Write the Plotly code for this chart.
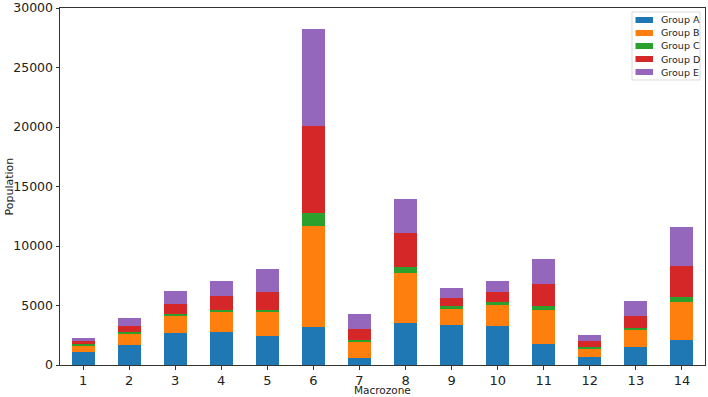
import plotly.graph_objects as go

macrozones = list(range(1, 15))
group_names = ["Group A", "Group B", "Group C", "Group D", "Group E"]
group_a = [1120, 1690, 2700, 2750, 2470, 3170, 590, 3540, 3340, 3250, 1770, 640, 1480, 2130]
group_b = [510, 930, 1400, 1690, 1960, 8550, 1310, 4180, 1380, 1800, 2890, 710, 1470, 3140]
group_c = [140, 140, 200, 200, 230, 1060, 170, 540, 220, 280, 280, 130, 140, 420]
group_d = [220, 500, 840, 1120, 1490, 7330, 960, 2830, 650, 780, 1890, 510, 990, 2610]
group_e = [290, 710, 1100, 1290, 1880, 8120, 1260, 2840, 870, 960, 2070, 560, 1260, 3320]
colors = ["#1f77b4", "#ff7f0e", "#2ca02c", "#d62728", "#9467bd"]

W, H = 708, 397
L, R, T, B = 60, 3, 8, 32
pw, ph = W - L - R, H - T - B

def px_x(p):  # pixel -> paper
    return (p - L) / pw

def px_y(p):
    return (H - B - p) / ph

fig = go.Figure()
for name, vals, c in zip(group_names, [group_a, group_b, group_c, group_d, group_e], colors):
    fig.add_trace(go.Bar(x=macrozones, y=vals, name=name, width=0.5,
                         marker=dict(color=c, line=dict(width=0))))

# matplotlib-like legend box drawn by hand
shapes = [dict(type="rect", xref="paper", yref="paper",
               x0=px_x(632), x1=px_x(700), y0=px_y(80), y1=px_y(12),
               line=dict(color="#d9d9d9", width=1), fillcolor="white", layer="above")]
annots = []
for i, (name, c) in enumerate(zip(group_names, colors)):
    yc = 20 + i * 13
    shapes.append(dict(type="rect", xref="paper", yref="paper",
                       x0=px_x(635.5), x1=px_x(653), y0=px_y(yc + 3), y1=px_y(yc - 3),
                       line=dict(width=0), fillcolor=c, layer="above"))
    annots.append(dict(text=name, xref="paper", yref="paper", x=px_x(659), y=px_y(yc),
                       xanchor="left", yanchor="middle", showarrow=False,
                       font=dict(size=9.5, color="#222")))

annots.append(dict(text="Macrozone", xref="paper", yref="paper", x=0.5, y=px_y(390),
                   xanchor="center", yanchor="middle", showarrow=False,
                   font=dict(size=10.5, color="#222")))
annots.append(dict(text="Population", xref="paper", yref="paper", x=px_x(9), y=0.5,
                   xanchor="center", yanchor="middle", showarrow=False, textangle=-90,
                   font=dict(size=11, color="#222")))

fig.update_layout(
    barmode="stack",
    width=W, height=H,
    margin=dict(l=L, r=R, t=T, b=B),
    paper_bgcolor="white", plot_bgcolor="white",
    font=dict(family="DejaVu Sans", size=12, color="#222"),
    showlegend=False,
    shapes=shapes,
    annotations=annots,
)
fig.update_xaxes(
    range=[0.5, 14.5], tickvals=macrozones, ticktext=[str(m) for m in macrozones],
    tickfont=dict(size=13), ticks="outside", ticklen=3.5, tickcolor="#333",
    showgrid=False, zeroline=False, showline=True, linecolor="#333", linewidth=1, mirror=True,
    automargin=False,
)
fig.update_yaxes(
    range=[0, 30000], tickvals=[0, 5000, 10000, 15000, 20000, 25000, 30000], tickformat="d",
    tickfont=dict(size=12.5), ticks="outside", ticklen=3.5, tickcolor="#333",
    showgrid=False, zeroline=False, showline=True, linecolor="#333", linewidth=1, mirror=True,
    automargin=False,
)

# page body has a default 8px margin; drop it so the figure fills the window
fig.write_html("out.html", config={"displayModeBar": False},
               post_script="document.body.style.margin='0';")
